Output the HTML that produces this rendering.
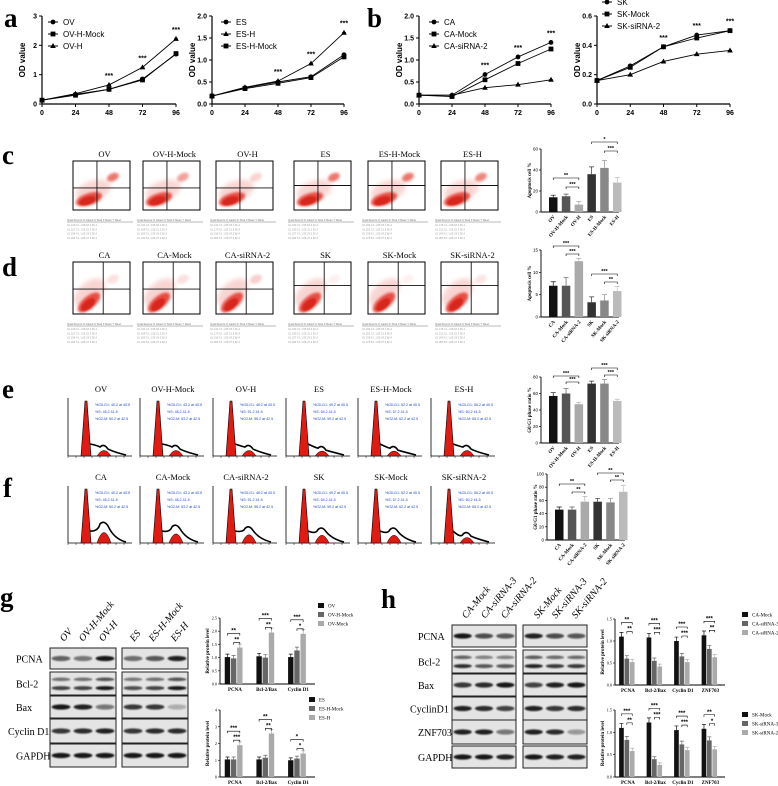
<!DOCTYPE html>
<html><head><meta charset="utf-8">
<style>
html,body{margin:0;padding:0;background:#fff;}
svg{display:block;}
text{font-family:"Liberation Sans",sans-serif;}
.ser{font-family:"Liberation Serif",serif;}
</style></head>
<body>
<svg id="fig" width="778" height="786" viewBox="0 0 778 786" xmlns="http://www.w3.org/2000/svg">
<defs id="defs">
<filter id="blur1" x="-50%" y="-50%" width="200%" height="200%"><feGaussianBlur stdDeviation="1.2"/></filter>
<filter id="blur2" x="-50%" y="-50%" width="200%" height="200%"><feGaussianBlur stdDeviation="2.4"/></filter>
<filter id="blur3" x="-50%" y="-50%" width="200%" height="200%"><feGaussianBlur stdDeviation="0.9"/></filter>
</defs>
</svg>
<script>
// ---------- data: growth curves ----------
const hours = [0, 24, 48, 72, 96];
const a1Names = ["OV", "OV-H-Mock", "OV-H"];
const a1OV = [0.13, 0.33, 0.50, 0.85, 1.70];
const a1Mock = [0.13, 0.30, 0.50, 0.82, 1.72];
const a1H = [0.13, 0.35, 0.65, 1.25, 2.22];
const a2Names = ["ES", "ES-H", "ES-H-Mock"];
const a2ES = [0.18, 0.37, 0.50, 0.62, 1.12];
const a2H = [0.18, 0.38, 0.52, 0.92, 1.62];
const a2Mock = [0.18, 0.35, 0.47, 0.60, 1.07];
const b1Names = ["CA", "CA-Mock", "CA-siRNA-2"];
const b1CA = [0.20, 0.20, 0.67, 1.07, 1.40];
const b1Mock = [0.20, 0.17, 0.55, 0.92, 1.25];
const b1Si = [0.20, 0.20, 0.37, 0.44, 0.55];
const b2Names = ["SK", "SK-Mock", "SK-siRNA-2"];
const b2SK = [0.16, 0.26, 0.39, 0.47, 0.50];
const b2Mock = [0.16, 0.25, 0.39, 0.45, 0.50];
const b2Si = [0.16, 0.20, 0.29, 0.34, 0.365];
// ---------- data: bar charts c-f ----------
const cCats = ["OV", "OV-H-Mock", "OV-H", "ES", "ES-H-Mock", "ES-H"];
const cVals = [14, 15, 7, 36, 42, 28];
const cErr = [2, 2, 3, 7, 7, 5];
const cTicks = [0, 20, 40, 60];
const dCats = ["CA", "CA-Mock", "CA-siRNA-2", "SK", "SK-Mock", "SK-siRNA-2"];
const dVals = [7, 7, 12.5, 3.3, 3.7, 5.8];
const dErr = [0.9, 1.8, 0.6, 1.2, 1.3, 1.0];
const dTicks = [0, 5, 10, 15];
const eVals = [57, 60, 47, 72, 72, 51];
const eErr = [4, 6, 2, 3, 5, 2];
const fVals = [46, 46, 58, 58, 57, 73];
const fErr = [4, 4, 8, 5, 6, 10];
const efTicks = [0, 20, 40, 60, 80];
const fTicks = [0, 20, 40, 60, 80, 100];
// ---------- data: western quantification ----------
const gCats = ["PCNA", "Bcl-2/Bax", "Cyclin D1"];
const g1Names = ["OV", "OV-H-Mock", "OV-Mock"];
const g1A = [1.02, 1.05, 1.02];
const g1B = [0.97, 1.00, 1.27];
const g1C = [1.38, 1.95, 1.90];
const g1Ticks = [0, 0.5, 1.0, 1.5, 2.0, 2.5];
const g2Names = ["ES", "ES-H-Mock", "ES-H"];
const g2A = [1.05, 1.05, 1.00];
const g2B = [1.05, 1.15, 1.10];
const g2C = [1.90, 2.60, 1.40];
const g2Ticks = [0, 1, 2, 3, 4];
const hCats = ["PCNA", "Bcl-2/Bax", "Cyclin D1", "ZNF703"];
const h1Names = ["CA-Mock", "CA-siRNA-3", "CA-siRNA-2"];
const h1A = [1.10, 1.08, 1.00, 1.13];
const h1B = [0.60, 0.55, 0.65, 0.82];
const h1C = [0.52, 0.42, 0.52, 0.63];
const h2Names = ["SK-Mock", "SK-siRNA-3", "SK-siRNA-2"];
const h2A = [1.10, 1.22, 1.05, 1.08];
const h2B = [0.83, 0.40, 0.73, 0.82];
const h2C = [0.58, 0.27, 0.60, 0.62];
const hTicks = [0, 0.5, 1.0, 1.5];

const NS = "http://www.w3.org/2000/svg";
const svg = document.getElementById("fig");
const defs = document.getElementById("defs");
function mk(tag, attrs, parent, txt) {
  const e = document.createElementNS(NS, tag);
  for (const k in attrs) e.setAttribute(k, attrs[k]);
  if (txt !== undefined) e.textContent = txt;
  (parent || svg).appendChild(e);
  return e;
}
function grp(name, parent) {
  const g = mk("g", {}, parent);
  
  
  return g;
}
function label(x, y, t, name, size) {
  const e = mk("text", {x: x, y: y, "font-size": size || 27, "font-weight": "bold", class: "ser"}, svg, t);
  
  
}
label(4, 27, "a", "panel-label-a"); label(367, 27, "b", "panel-label-b");
label(2, 164, "c", "panel-label-c"); label(2, 276, "d", "panel-label-d");
label(2, 398, "e", "panel-label-e"); label(3, 497, "f", "panel-label-f");
label(0, 606, "g", "panel-label-g"); label(381, 608, "h", "panel-label-h");

// ---------- line charts ----------
function marker(g, type, x, y) {
  if (type === 0) mk("circle", {cx: x, cy: y, r: 2.4, fill: "#000"}, g);
  else if (type === 1) mk("rect", {x: x - 2.4, y: y - 2.4, width: 4.8, height: 4.8, fill: "#000"}, g);
  else mk("path", {d: `M${x},${y - 3}L${x + 2.8},${y + 2}L${x - 2.8},${y + 2}Z`, fill: "#000"}, g);
}
function lineChart(name, x0, x1, yT, yB, ymax, ticks, tickFmt, names, series, mtypes, legX, legY, errs) {
  const g = grp(name);
  const sx = v => x0 + (v / 96) * (x1 - x0);
  const sy = v => yB - (v / ymax) * (yB - yT);
  mk("line", {x1: x0, y1: yT, x2: x0, y2: yB, stroke: "#000", "stroke-width": 1.2}, g);
  mk("line", {x1: x0, y1: yB, x2: x1, y2: yB, stroke: "#000", "stroke-width": 1.2}, g);
  ticks.forEach(t => {
    mk("line", {x1: x0 - 3, y1: sy(t), x2: x0, y2: sy(t), stroke: "#000"}, g);
    mk("text", {x: x0 - 5, y: sy(t) + 2.5, "font-size": 7, "font-weight": "bold", "text-anchor": "end"}, g, tickFmt(t));
  });
  hours.forEach(h => {
    mk("line", {x1: sx(h), y1: yB, x2: sx(h), y2: yB + 3, stroke: "#000"}, g);
    mk("text", {x: sx(h), y: yB + 11, "font-size": 7, "font-weight": "bold", "text-anchor": "middle"}, g, h);
  });
  mk("text", {x: 0, y: 0, "font-size": 8, "font-weight": "bold", "text-anchor": "middle", transform: `translate(${x0 - 17},${(yT + yB) / 2}) rotate(-90)`}, g, "OD value");
  series.forEach((s, i) => {
    const pts = s.map((v, j) => `${sx(hours[j])},${sy(v)}`).join(" ");
    const pl = mk("polyline", {points: pts, fill: "none", stroke: "#000", "stroke-width": 0.9}, g);
    
    s.forEach((v, j) => {
      if (j > 0) {
        const e = (errs[i] || 0.04) * (j) * ymax;
        mk("line", {x1: sx(hours[j]), y1: sy(v) - e, x2: sx(hours[j]), y2: sy(v) + e, stroke: "#000", "stroke-width": 0.7}, g);
        mk("line", {x1: sx(hours[j]) - 2, y1: sy(v) - e, x2: sx(hours[j]) + 2, y2: sy(v) - e, stroke: "#000", "stroke-width": 0.7}, g);
      }
      marker(g, mtypes[i], sx(hours[j]), sy(v));
    });
    marker(g, mtypes[i], legX, legY + i * 12 - 2);
    mk("line", {x1: legX - 5, y1: legY + i * 12 - 2, x2: legX + 5, y2: legY + i * 12 - 2, stroke: "#000"}, g);
    mk("text", {x: legX + 10, y: legY + i * 12 + 1, "font-size": 8}, g, names[i]);
  });
  [2, 3, 4].forEach(j => {
    const top = Math.max(...series.map(s => s[j]));
    mk("text", {x: sx(hours[j]), y: sy(top) - 7, "font-size": 7, "font-weight": "bold", "text-anchor": "middle"}, g, "***");
  });
}
const f0 = t => String(t), f1 = t => t.toFixed(1);
lineChart("growth-chart-ov", 42, 176, 16, 104, 3, [0, 1, 2, 3], f0, a1Names, [a1OV, a1Mock, a1H], [0, 1, 2], 53, 24, [0.01, 0.01, 0.008]);
lineChart("growth-chart-es", 212, 344, 16, 104, 2, [0, 0.5, 1, 1.5, 2], f1, a2Names, [a2ES, a2H, a2Mock], [0, 2, 1], 226, 24, [0.01, 0.01, 0.008]);
lineChart("growth-chart-ca", 419, 551, 16, 104, 2, [0, 0.5, 1, 1.5, 2], f1, b1Names, [b1CA, b1Mock, b1Si], [0, 1, 2], 434, 24, [0.012, 0.015, 0.012]);
lineChart("growth-chart-sk", 597, 730, 16, 104, 0.6, [0, 0.2, 0.4, 0.6], f1, b2Names, [b2SK, b2Mock, b2Si], [0, 1, 2], 607, 4, [0.01, 0.01, 0.008]);

// ---------- flow cytometry scatter ----------
const flowTitlesC = ["OV", "OV-H-Mock", "OV-H", "ES", "ES-H-Mock", "ES-H"];
const flowTitlesD = ["CA", "CA-Mock", "CA-siRNA-2", "SK", "SK-Mock", "SK-siRNA-2"];
const flowX = [73, 143, 216, 294, 368, 441];
let clipN = 0;
function flowRow(prefix, titles, yT, yB, hline, vline, rot, upperCluster) {
  titles.forEach((t, i) => {
    const g = grp(prefix + "-flow-" + t.toLowerCase());
    const x = flowX[i], w = 57, h = yB - yT;
    const cid = "clip" + (clipN++);
    const cp = mk("clipPath", {id: cid}, defs);
    mk("rect", {x: x, y: yT, width: w, height: h}, cp);
    mk("text", {x: x + w / 2 + 3, y: yT - 4, "font-size": 8.5, "text-anchor": "middle", class: "ser"}, g, t);
    mk("rect", {x: x, y: yT, width: w, height: h, fill: "#fff"}, g);
    const cg = mk("g", {"clip-path": `url(#${cid})`}, g);
    const hl = yT + h * hline[i];
    const vl = x + w * vline;
    const mx = x + w * 0.28, my = yB - h * 0.22;
    mk("ellipse", {cx: mx + w * 0.12, cy: my - h * 0.14, rx: w * 0.32, ry: h * 0.2, fill: "#f2b2ae", opacity: 0.55, filter: "url(#blur2)", transform: `rotate(${rot} ${mx} ${my})`}, cg);
    mk("ellipse", {cx: mx, cy: my, rx: w * 0.24, ry: h * 0.12, fill: "#e3352b", opacity: 0.85, filter: "url(#blur1)", transform: `rotate(${rot} ${mx} ${my})`}, cg);
    mk("ellipse", {cx: mx - 2, cy: my + 1, rx: w * 0.15, ry: h * 0.08, fill: "#d8261c", filter: "url(#blur3)", transform: `rotate(${rot} ${mx} ${my})`}, cg);
    if (upperCluster[i]) mk("ellipse", {cx: x + w * 0.7, cy: yT + h * 0.33, rx: w * 0.11, ry: h * 0.08, fill: "#e6564c", opacity: upperCluster[i], filter: "url(#blur1)", transform: `rotate(-25 ${x + w * 0.7} ${yT + h * 0.33})`}, cg);
    mk("rect", {x: x, y: yT, width: w, height: h, fill: "none", stroke: "#000", "stroke-width": 1}, g);
    mk("line", {x1: x, y1: hl, x2: x + w, y2: hl, stroke: "#111", "stroke-width": 0.9}, g);
    mk("line", {x1: vl, y1: yT, x2: vl, y2: yB, stroke: "#111", "stroke-width": 0.9}, g);
    mk("line", {x1: x - 6, y1: yB + 12, x2: x + w + 3, y2: yB + 12, stroke: "#777", "stroke-width": 0.6}, g);
    const hdr = "Quad  Events  % Gated  % Total  X Mean  Y Mean";
    mk("text", {x: x - 6, y: yB + 11, "font-size": 2.6, fill: "#777"}, g, hdr);
    for (let r = 0; r < 4; r++) {
      mk("text", {x: x - 6, y: yB + 16 + r * 4.3, "font-size": 2.6, fill: "#999"}, g, "UL    " + (120 + r * 37 + i * 11) + "    " + (2.1 + r) + "    1.05    " + (18.2 + r * 3) + "    92.4");
    }
  });
}
flowRow("c", flowTitlesC, 161, 210, [0.55, 0.55, 0.55, 0.5, 0.5, 0.5], 0.42, -18, [0.8, 0.55, 0.25, 0.8, 0.8, 0.7]);
flowRow("d", flowTitlesD, 262, 314, [0.52, 0.52, 0.52, 0.45, 0.45, 0.45], 0.53, -40, [0.18, 0.18, 0.28, 0.08, 0.08, 0.15]);

// ---------- cell cycle histograms ----------
const histTitlesE = ["OV", "OV-H-Mock", "OV-H", "ES", "ES-H-Mock", "ES-H"];
const histTitlesF = ["CA", "CA-Mock", "CA-siRNA-2", "SK", "SK-Mock", "SK-siRNA-2"];
const histX = [68, 140, 213, 286, 358, 431];
function histRow(prefix, titles, yT, yB, g2h, sh) {
  titles.forEach((t, i) => {
    const g = grp(prefix + "-hist-" + t.toLowerCase());
    const x = histX[i], w = 64, h = yB - yT;
    mk("text", {x: x + 33, y: yT - 6, "font-size": 8.5, "text-anchor": "middle", class: "ser"}, g, t);
    mk("line", {x1: x, y1: yT, x2: x, y2: yB, stroke: "#000", "stroke-width": 0.8}, g);
    mk("line", {x1: x, y1: yB, x2: x + w, y2: yB, stroke: "#000", "stroke-width": 0.8}, g);
    for (let k = 0; k < 8; k++) mk("line", {x1: x + k * 8, y1: yB, x2: x + k * 8, y2: yB + 2, stroke: "#000", "stroke-width": 0.5}, g);
    const px = x + 18, p2 = x + 36;
    const g2y = yB - h * g2h[i];
    mk("path", {d: `M${px - 5},${yB}L${px - 1},${yT + 3}L${px + 1},${yT + 3}L${px + 5},${yB}Z`, fill: "#e21b12", stroke: "#000", "stroke-width": 0.6}, g);
    mk("path", {d: `M${p2 - 7},${yB}Q${p2},${g2y - 4} ${p2 + 7},${yB}Z`, fill: "#e21b12", stroke: "#000", "stroke-width": 0.5}, g);
    mk("path", {d: `M${px + 4},${yB - 12}Q${px + 12},${yB - h * sh[i]} ${p2 - 4},${g2y - 2}Q${p2},${g2y - 6} ${p2 + 4},${g2y}Q${p2 + 10},${yB - 4} ${x + w - 6},${yB - 1}`, fill: "none", stroke: "#000", "stroke-width": 1.6}, g);
    const lines = [["%G0-G1:", "at"], ["%S:", ""], ["%G2-M:", "at"]];
    lines.forEach((l, k) => mk("text", {x: x + 27, y: yT + 8 + k * 7, "font-size": 3.6, fill: "#2345c8"}, g, l[0] + " " + (40 + i * 3 + k * 5) + ".2 " + l[1] + " 4" + k + ".5"));
  });
}
histRow("e", histTitlesE, 398, 456, [0.12, 0.12, 0.12, 0.1, 0.1, 0.12], [0.18, 0.18, 0.16, 0.14, 0.14, 0.16]);
histRow("f", histTitlesF, 486, 543, [0.3, 0.25, 0.22, 0.2, 0.2, 0.12], [0.2, 0.18, 0.18, 0.15, 0.15, 0.08]);

// ---------- single bar charts c-f ----------
const barColors = ["#111", "#555", "#aaa", "#333", "#888", "#bbb"];
function singleBar(name, x0, yT, yB, max, ticks, cats, vals, errs, ytitle, sigs) {
  const g = grp(name);
  const step = 12.8, bw = 8.5, first = x0 + 8;
  const sy = v => yB - (v / max) * (yB - yT);
  const cx = i => first + i * step + bw / 2;
  mk("line", {x1: x0, y1: yT, x2: x0, y2: yB, stroke: "#000", "stroke-width": 0.9}, g);
  mk("line", {x1: x0, y1: yB, x2: x0 + 78, y2: yB, stroke: "#000", "stroke-width": 0.9}, g);
  ticks.forEach(t => {
    mk("line", {x1: x0 - 2, y1: sy(t), x2: x0, y2: sy(t), stroke: "#000", "stroke-width": 0.7}, g);
    mk("text", {x: x0 - 3, y: sy(t) + 1.5, "font-size": 4.5, "text-anchor": "end"}, g, t);
  });
  mk("text", {x: 0, y: 0, "font-size": 5, "font-weight": "bold", "text-anchor": "middle", class: "ser", transform: `translate(${x0 - 10},${(yT + yB) / 2}) rotate(-90)`}, g, ytitle);
  vals.forEach((v, i) => {
    const b = mk("rect", {x: first + i * step, y: sy(v), width: bw, height: yB - sy(v), fill: barColors[i]}, g);
    
    const e = errs[i];
    mk("path", {d: `M${cx(i)},${sy(v)}V${sy(v + e)}M${cx(i) - 2.5},${sy(v + e)}H${cx(i) + 2.5}`, stroke: barColors[i], "stroke-width": 0.7, fill: "none"}, g);
    mk("text", {x: 0, y: 0, "font-size": 5, "font-weight": "bold", "text-anchor": "end", class: "ser", transform: `translate(${cx(i) + 2},${yB + 5}) rotate(-50)`}, g, cats[i]);
  });
  sigs.forEach(s => {
    const y = s[2];
    mk("path", {d: `M${cx(s[0])},${y + 2}V${y}H${cx(s[1])}V${y + 2}`, stroke: "#000", "stroke-width": 0.6, fill: "none"}, g);
    mk("text", {x: (cx(s[0]) + cx(s[1])) / 2, y: y - 1, "font-size": 5.5, "font-weight": "bold", "text-anchor": "middle"}, g, s[3]);
  });
}
singleBar("apoptosis-chart-c", 541, 149, 212, 60, cTicks, cCats, cVals, cErr, "Apoptosis cell %", [[0, 2, 178, "**"], [1, 2, 187, "***"], [3, 5, 142, "*"], [4, 5, 151, "***"]]);
singleBar("apoptosis-chart-d", 541, 250, 317, 15, dTicks, dCats, dVals, dErr, "Apoptosis cell %", [[0, 2, 246, "***"], [1, 2, 254, "***"], [3, 5, 274, "***"], [4, 5, 282, "**"]]);
singleBar("g0g1-chart-e", 541, 377, 443, 80, efTicks, cCats, eVals, eErr, "G0/G1 phase ratio %", [[0, 2, 376, "***"], [1, 2, 382, "***"], [3, 5, 368, "***"], [4, 5, 375, "***"]]);
singleBar("g0g1-chart-f", 547, 474, 540, 100, fTicks, dCats, fVals, fErr, "G0/G1 phase ratio %", [[0, 2, 484, "**"], [1, 2, 492, "**"], [3, 5, 473, "**"], [4, 5, 480, "**"]]);

// ---------- western blots ----------
function blotPanel(name, cols, colX, rows, bx, bw, rowsY, bandStr) {
  const g = grp(name);
  cols.forEach((c, i) => {
    mk("text", {x: 0, y: 0, "font-size": 10, class: "ser", "font-style": "italic", transform: `translate(${colX[i]},${rowsY[0][0] - 6}) rotate(-50)`}, g, c);
  });
  rows.forEach((r, ri) => {
    const [y0, y1] = rowsY[ri];
    mk("text", {x: bx[0] - 34 - (r.length > 6 ? 8 : 0), y: (y0 + y1) / 2 + 4, "font-size": 10, class: "ser"}, g, r);
    bx.forEach((x, bi) => {
      mk("rect", {x: x, y: y0, width: bw, height: y1 - y0, fill: "#e4e4e4", stroke: "#222", "stroke-width": 1}, g);
      for (let l = 0; l < 3; l++) {
        const s = bandStr[ri][bi * 3 + l];
        const lx = x + bw / 6 + l * bw / 3;
        const dbl = r === "Bcl-2";
        if (dbl) {
          mk("ellipse", {cx: lx, cy: y0 + (y1 - y0) * 0.32, rx: bw / 7, ry: 1.8, fill: "#111", opacity: s * 0.7, filter: "url(#blur3)"}, g);
          mk("ellipse", {cx: lx, cy: y0 + (y1 - y0) * 0.7, rx: bw / 7, ry: 2, fill: "#111", opacity: s, filter: "url(#blur3)"}, g);
        } else {
          mk("ellipse", {cx: lx, cy: (y0 + y1) / 2, rx: bw / 7, ry: 2.6, fill: "#111", opacity: s, filter: "url(#blur3)"}, g);
        }
      }
    });
  });
}
blotPanel("western-blot-g", ["OV", "OV-H-Mock", "OV-H", "ES", "ES-H-Mock", "ES-H"], [64, 83, 103, 134, 153, 175],
  ["PCNA", "Bcl-2", "Bax", "Cyclin D1", "GAPDH"], [50, 122], 66,
  [[648, 669], [672, 695], [696, 718], [719, 743], [744, 767]],
  [[0.6, 0.5, 0.95, 0.55, 0.65, 0.9], [0.75, 0.75, 0.95, 0.7, 0.75, 0.95], [0.95, 0.9, 0.5, 0.8, 0.8, 0.25], [0.8, 0.85, 0.9, 0.8, 0.85, 0.85], [0.95, 0.95, 0.95, 0.95, 0.95, 0.95]]);
blotPanel("western-blot-h", ["CA-Mock", "CA-siRNA-3", "CA-siRNA-2", "SK-Mock", "SK-siRNA-3", "SK-siRNA-2"], [466, 485, 505, 538, 556, 576],
  ["PCNA", "Bcl-2", "Bax", "CyclinD1", "ZNF703", "GAPDH"], [452, 523], 64,
  [[625, 647], [650, 673], [674, 696], [697, 720], [720, 744], [746, 768]],
  [[0.95, 0.7, 0.65, 0.9, 0.7, 0.65], [0.85, 0.65, 0.65, 0.9, 0.8, 0.8], [0.8, 0.85, 0.95, 0.75, 0.9, 0.95], [0.9, 0.85, 0.75, 0.9, 0.8, 0.85], [0.9, 0.9, 0.5, 0.9, 0.85, 0.35], [0.95, 0.95, 0.9, 0.95, 0.9, 0.9]]);

// ---------- grouped bar charts ----------
const gColors = ["#111", "#666", "#aaa"];
function groupBar(name, x0, x1, yT, yB, max, ticks, cats, names, A, B, C, legX, legY, sigs) {
  const g = grp(name);
  const series = [A, B, C];
  const sy = v => yB - (v / max) * (yB - yT);
  const gw = (x1 - x0) / cats.length, bw = gw * 0.17;
  const bx = (c, s) => x0 + gw * c + gw * 0.15 + s * bw * 1.15;
  mk("line", {x1: x0, y1: yT, x2: x0, y2: yB, stroke: "#000", "stroke-width": 0.9}, g);
  mk("line", {x1: x0, y1: yB, x2: x1, y2: yB, stroke: "#000", "stroke-width": 0.9}, g);
  ticks.forEach(t => {
    mk("line", {x1: x0 - 2, y1: sy(t), x2: x0, y2: sy(t), stroke: "#000", "stroke-width": 0.6}, g);
    mk("text", {x: x0 - 3, y: sy(t) + 1.5, "font-size": 4.2, "text-anchor": "end", class: "ser"}, g, t.toFixed(t % 1 || max < 3 ? 1 : 0));
  });
  mk("text", {x: 0, y: 0, "font-size": 5, "font-weight": "bold", "text-anchor": "middle", class: "ser", transform: `translate(${x0 - 11},${(yT + yB) / 2}) rotate(-90)`}, g, "Relative protein level");
  cats.forEach((c, ci) => {
    series.forEach((s, si) => {
      const v = s[ci];
      const b = mk("rect", {x: bx(ci, si), y: sy(v), width: bw, height: yB - sy(v), fill: gColors[si]}, g);
      
      const e = v * 0.06 + 0.02 * max;
      const cx = bx(ci, si) + bw / 2;
      mk("path", {d: `M${cx},${sy(v)}V${sy(v + e)}M${cx - 2},${sy(v + e)}H${cx + 2}`, stroke: gColors[si], "stroke-width": 0.7, fill: "none"}, g);
    });
    mk("text", {x: x0 + gw * ci + gw * 0.47, y: yB + 7, "font-size": 5, "font-weight": "bold", "text-anchor": "middle", class: "ser"}, g, c);
    const s = sigs[ci];
    const c0 = bx(ci, 0) + bw / 2, c1 = bx(ci, 1) + bw / 2, c2 = bx(ci, 2) + bw / 2;
    const top = Math.max(A[ci], B[ci], C[ci]);
    const y1 = sy(top) - 14, y2 = sy(top) - 5;
    mk("path", {d: `M${c0},${y1 + 2}V${y1}H${c2}V${y1 + 2}`, stroke: "#000", "stroke-width": 0.6, fill: "none"}, g);
    mk("text", {x: (c0 + c2) / 2, y: y1 - 1, "font-size": 6, "font-weight": "bold", "text-anchor": "middle"}, g, s[0]);
    mk("path", {d: `M${c1},${y2 + 2}V${y2}H${c2}V${y2 + 2}`, stroke: "#000", "stroke-width": 0.6, fill: "none"}, g);
    mk("text", {x: (c1 + c2) / 2, y: y2 - 1, "font-size": 6, "font-weight": "bold", "text-anchor": "middle"}, g, s[1]);
  });
  names.forEach((n, i) => {
    const lg = mk("rect", {x: legX, y: legY + i * 9, width: 6, height: 5, fill: gColors[i]}, g);
    
    mk("text", {x: legX + 10, y: legY + i * 9 + 4.5, "font-size": 5, class: "ser"}, g, n);
  });
}
groupBar("protein-chart-g-ov", 220, 315, 618, 684, 2.5, g1Ticks, gCats, g1Names, g1A, g1B, g1C, 318, 603, [["**", "**"], ["***", "**"], ["***", "*"]]);
groupBar("protein-chart-g-es", 220, 315, 710, 777, 4, g2Ticks, gCats, g2Names, g2A, g2B, g2C, 309, 697, [["***", "***"], ["**", "**"], ["*", "*"]]);
groupBar("protein-chart-h-ca", 615, 725, 619, 685, 1.5, hTicks, hCats, h1Names, h1A, h1B, h1C, 742, 612, [["**", "**"], ["***", "***"], ["***", "***"], ["***", "**"]]);
groupBar("protein-chart-h-sk", 615, 725, 710, 777, 1.5, hTicks, hCats, h2Names, h2A, h2B, h2C, 742, 712, [["***", "**"], ["***", "***"], ["***", "***"], ["**", "*"]]);
</script>
</body></html>
